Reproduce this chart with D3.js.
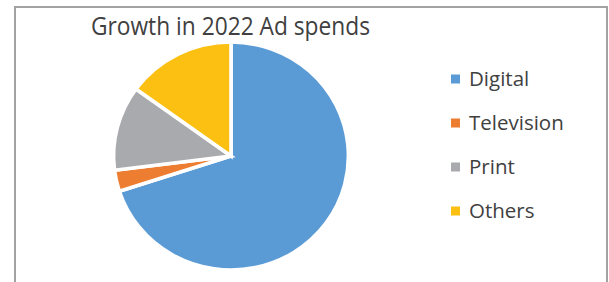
<!DOCTYPE html>
<html>
<head>
<meta charset="utf-8">
<script src="https://cdn.jsdelivr.net/npm/d3@7"></script>
<style>
  html, body { margin: 0; padding: 0; background: #fff; }
  svg { display: block; }
</style>
</head>
<body>
<svg id="chart" width="609" height="282"></svg>
<script>
const categories = ["Digital", "Television", "Print", "Others"];
const values = [70, 3, 12, 15];
const colors = ["#5B9BD5", "#ED7D31", "#A9AAAE", "#FBC012"];
const title = "Growth in 2022 Ad spends";

const svg = d3.select("#chart");

// frame
svg.append("path")
  .attr("d", "M15,282 V7 H607 V282")
  .attr("fill", "none")
  .attr("stroke", "#a3a3a3")
  .attr("stroke-width", 2);

// title
const t = svg.append("text")
  .attr("x", 91).attr("y", 35)
  .attr("font-family", "'Open Sans', sans-serif")
  .attr("font-size", 25)
  .attr("fill", "#404040")
  .text(title);
t.attr("textLength", 279).attr("lengthAdjust", "spacingAndGlyphs");

// pie
const data = categories.map((c, i) => ({ name: c, value: values[i], color: colors[i] }));
const pie = d3.pie().value(d => d.value).sort(null);
const r = 114;
const arc = d3.arc().innerRadius(0).outerRadius(r);
const g = svg.append("g")
  .attr("transform", "translate(231,156) scale(1.03,1)");
g.selectAll("path")
  .data(pie(data))
  .join("path")
  .attr("d", arc)
  .attr("fill", d => d.data.color)
  .attr("stroke", "#fff")
  .attr("stroke-width", 3.5)
  .attr("stroke-linejoin", "miter");

// legend
const ly = d3.scalePoint().domain(categories).range([79, 211]);
const lg = svg.append("g");
const items = lg.selectAll("g").data(data).join("g")
  .attr("transform", d => `translate(451,${ly(d.name)})`);
items.append("rect")
  .attr("x", 0).attr("y", -4.5).attr("width", 9).attr("height", 9)
  .attr("fill", d => d.color);
items.append("text")
  .attr("x", 18).attr("y", 7)
  .attr("font-family", "'Open Sans', sans-serif")
  .attr("font-size", 20.5)
  .attr("fill", "#404040")
  .text(d => d.name);
</script>
</body>
</html>
